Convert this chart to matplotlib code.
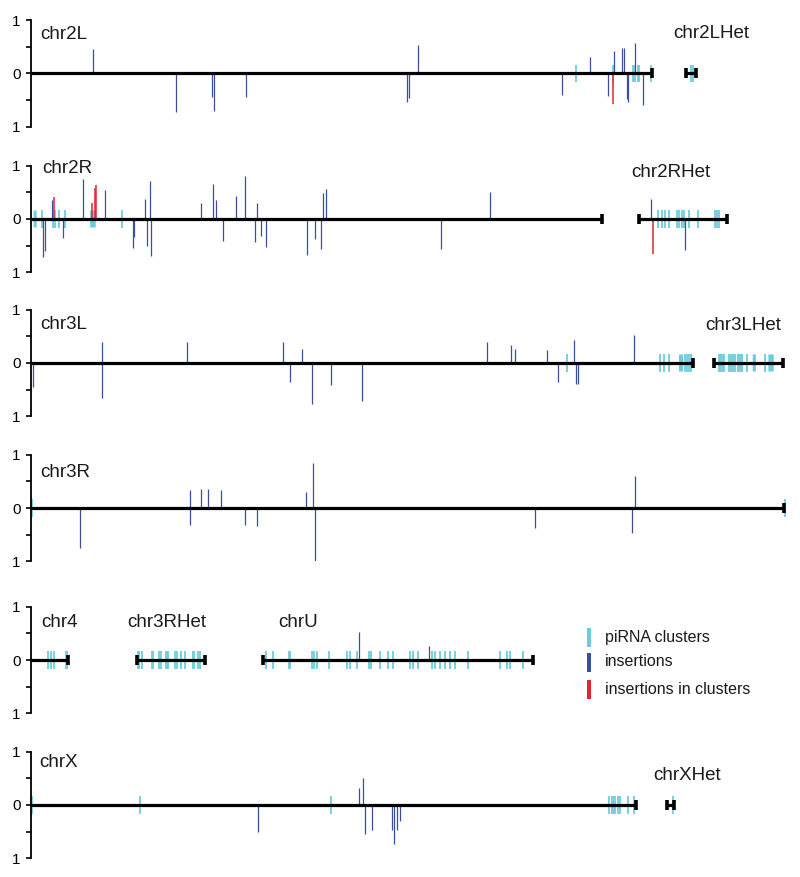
import matplotlib
matplotlib.use('Agg')
import matplotlib.pyplot as plt
from matplotlib.patches import Rectangle

plt.rcParams['font.family'] = ['Liberation Sans', 'DejaVu Sans']

W, H = 800, 877
CYAN = '#6dcedb'
BLUE = '#3c4f9e'
RED = '#e32432'
THIN = 0.04

# ---------------- data (positions in Mb, heights in relative units) ----------------
# Panel 1: chr2L + chr2LHet
p1_names = ['chr2L', 'chr2LHet']
p1_starts = [0.0, 24.25]
p1_ends = [23.01, 24.63]
p1_ins_x = [2.29, 5.38, 6.69, 6.77, 7.97, 13.91, 14.00, 14.34, 19.66, 20.71, 21.36,
            21.60, 21.88, 21.95, 22.06, 22.10, 22.38, 22.67]
p1_ins_h = [0.45, -0.73, -0.45, -0.71, -0.45, -0.54, -0.46, 0.54, -0.40, 0.31, -0.43,
            0.42, 0.48, 0.47, -0.48, -0.54, 0.57, -0.60]
p1_red_x = [21.57]
p1_red_h = [-0.58]
p1_clu_x = [20.17, 21.57, 22.31, 22.38, 22.47, 22.53, 22.96, 24.44, 24.53]
p1_clu_w = [0.07, THIN, 0.05, 0.05, 0.05, 0.05, THIN, THIN, THIN]

# Panel 2: chr2R + chr2RHet
p2_names = ['chr2R', 'chr2RHet']
p2_starts = [0.0, 22.51]
p2_ends = [21.15, 25.78]
p2_ins_x = [0.44, 0.51, 0.77, 1.17, 1.94, 2.74, 3.78, 3.83, 4.23, 4.29, 4.42, 4.46,
            6.29, 6.73, 6.85, 7.10, 7.58, 7.91, 8.30, 8.36, 8.51, 8.69, 10.23, 10.51,
            10.75, 10.80, 10.93, 15.20, 16.99, 22.96, 24.23]
p2_ins_h = [-0.71, -0.60, 0.36, -0.35, 0.75, 0.55, -0.55, -0.33, 0.37, -0.51, 0.72, -0.69,
            0.30, 0.66, 0.36, -0.42, 0.43, 0.81, -0.43, 0.30, -0.31, -0.53, -0.68, -0.37,
            -0.57, 0.48, 0.56, -0.57, 0.50, 0.37, -0.58]
p2_red_x = [0.86, 2.25, 2.37, 2.41, 23.03]
p2_red_h = [0.41, 0.30, 0.58, 0.64, -0.65]
p2_clu_x = [0.155, 0.42, 0.80, 0.89, 1.05, 1.27, 2.295, 3.36,
            23.23, 23.36, 23.48, 23.62, 23.94, 24.01, 24.10, 24.19, 24.37, 24.70,
            25.34, 25.42, 25.49]
p2_clu_w = [0.11, THIN, THIN, THIN, THIN, THIN, 0.21, THIN,
            THIN, THIN, THIN, THIN, THIN, THIN, THIN, THIN, THIN, THIN,
            THIN, THIN, THIN]

# Panel 3: chr3L + chr3LHet
p3_names = ['chr3L', 'chr3LHet']
p3_starts = [0.0, 25.31]
p3_ends = [24.53, 27.86]
p3_ins_x = [0.06, 2.64, 2.64, 5.78, 9.32, 9.59, 10.04, 10.40, 11.11, 12.25, 16.89,
            17.78, 17.91, 19.10, 19.53, 20.10, 20.19, 20.25, 22.34]
p3_ins_h = [-0.45, 0.39, -0.65, 0.40, 0.39, -0.35, 0.26, -0.76, -0.42, -0.72, 0.40,
            0.33, 0.26, 0.25, -0.36, 0.43, -0.40, -0.40, 0.53]
p3_red_x = []
p3_red_h = []
p3_clu_x = [19.85, 23.30, 23.46, 23.64, 24.075, 24.22, 24.30, 24.37, 24.44,
            25.47, 25.52, 25.57, 25.62, 25.68, 25.85, 25.90, 25.95, 26.01, 26.06,
            26.17, 26.23, 26.29, 26.35, 26.51, 26.79, 27.20, 27.41]
p3_clu_w = [THIN, THIN, THIN, THIN, 0.15, THIN, THIN, THIN, THIN,
            0.05, 0.05, 0.05, 0.05, 0.05, 0.05, 0.05, 0.05, 0.05, 0.05,
            0.05, 0.05, 0.05, 0.05, THIN, 0.12, THIN, 0.20]

# Panel 4: chr3R
p4_names = ['chr3R']
p4_starts = [0.0]
p4_ends = [27.90]
p4_ins_x = [1.83, 5.89, 5.89, 6.31, 6.57, 7.03, 7.91, 8.37, 10.20, 10.46, 10.53,
            18.68, 22.26, 22.37]
p4_ins_h = [-0.75, 0.33, -0.31, 0.35, 0.35, 0.34, -0.32, -0.34, 0.30, 0.84, -1.0,
            -0.37, -0.46, 0.60]
p4_red_x = []
p4_red_h = []
p4_clu_x = [0.02, 27.93]
p4_clu_w = [THIN, THIN]

# Panel 5: chr4, chr3RHet, chrU
p5_names = ['chr4', 'chr3RHet', 'chrU']
p5_starts = [0.0, 3.91, 8.58]
p5_ends = [1.36, 6.43, 18.60]
p5_ins_x = [12.14, 14.73]
p5_ins_h = [0.53, 0.27]
p5_red_x = []
p5_red_h = []
p5_clu_x = [0.64, 0.73, 0.85, 1.30, 1.34,
            3.96, 4.01, 4.10, 4.47, 4.53, 4.75, 4.83, 4.99, 5.03, 5.09, 5.33, 5.40,
            5.56, 5.70, 5.99, 6.05, 6.20, 6.26,
            8.69, 8.97, 9.54, 9.59, 10.40, 10.47, 10.58, 11.05, 11.69, 11.81, 12.06,
            12.53, 12.59, 12.93, 13.23, 13.42, 14.04, 14.16, 14.34, 14.84, 14.96,
            15.15, 15.33, 15.52, 15.70, 16.20, 17.37, 17.62, 17.74, 18.23]
p5_clu_w = [THIN] * len(p5_clu_x)

# Panel 6: chrX + chrXHet
p6_names = ['chrX', 'chrXHet']
p6_starts = [0.0, 23.54]
p6_ends = [22.41, 23.81]
p6_ins_x = [8.42, 12.14, 12.29, 12.38, 12.62, 13.37, 13.44, 13.54, 13.67]
p6_ins_h = [-0.50, 0.31, 0.50, -0.55, -0.46, -0.47, -0.74, -0.47, -0.30]
p6_red_x = []
p6_red_h = []
p6_clu_x = [0.02, 4.04, 11.10, 21.42, 21.51, 21.57, 21.63, 21.75, 21.81, 22.12, 22.34, 23.77]
p6_clu_w = [THIN, THIN, THIN, 0.05, 0.05, 0.05, 0.05, 0.05, 0.05, THIN, THIN, THIN]

legend_labels = ['piRNA clusters', 'insertions', 'insertions in clusters']

# ---------------- layout ----------------
panels = [
    dict(names=p1_names, s=p1_starts, e=p1_ends, ix=p1_ins_x, ih=p1_ins_h, rx=p1_red_x, rh=p1_red_h,
         cx=p1_clu_x, cw=p1_clu_w, y0=73.3,
         labels=[(0.33, 0.64, 'left'), (25.21, 0.66, 'center')]),
    dict(names=p2_names, s=p2_starts, e=p2_ends, ix=p2_ins_x, ih=p2_ins_h, rx=p2_red_x, rh=p2_red_h,
         cx=p2_clu_x, cw=p2_clu_w, y0=219.0,
         labels=[(0.43, 0.86, 'left'), (23.70, 0.78, 'center')]),
    dict(names=p3_names, s=p3_starts, e=p3_ends, ix=p3_ins_x, ih=p3_ins_h, rx=p3_red_x, rh=p3_red_h,
         cx=p3_clu_x, cw=p3_clu_w, y0=363.0,
         labels=[(0.33, 0.64, 'left'), (26.38, 0.62, 'center')]),
    dict(names=p4_names, s=p4_starts, e=p4_ends, ix=p4_ins_x, ih=p4_ins_h, rx=p4_red_x, rh=p4_red_h,
         cx=p4_clu_x, cw=p4_clu_w, y0=508.0,
         labels=[(0.33, 0.59, 'left')]),
    dict(names=p5_names, s=p5_starts, e=p5_ends, ix=p5_ins_x, ih=p5_ins_h, rx=p5_red_x, rh=p5_red_h,
         cx=p5_clu_x, cw=p5_clu_w, y0=660.0,
         labels=[(1.07, 0.62, 'center'), (5.03, 0.62, 'center'), (9.90, 0.62, 'center')]),
    dict(names=p6_names, s=p6_starts, e=p6_ends, ix=p6_ins_x, ih=p6_ins_h, rx=p6_red_x, rh=p6_red_h,
         cx=p6_clu_x, cw=p6_clu_w, y0=805.0,
         labels=[(0.31, 0.71, 'left'), (24.31, 0.46, 'center')]),
]

PX_PER_MB = 27.0
AX_LEFT_PX = 31.0
HALF_PX = 53.3
CLU_H = 0.16
CAP_H = 0.095

fig = plt.figure(figsize=(W / 100, H / 100), dpi=100)

for p in panels:
    y0 = p['y0']
    ax = fig.add_axes([AX_LEFT_PX / W, (H - (y0 + HALF_PX)) / H,
                       (W - AX_LEFT_PX) / W, 2 * HALF_PX / H])
    ax.set_xlim(0, (W - AX_LEFT_PX) / PX_PER_MB)
    ax.set_ylim(-1, 1)
    for side in ['top', 'right', 'bottom']:
        ax.spines[side].set_visible(False)
    ax.spines['left'].set_linewidth(1.3)
    ax.set_xticks([])
    ax.set_yticks([-1, -0.5, 0, 0.5, 1])
    ax.set_yticklabels(['1', '', '0', '', '1'])
    ax.tick_params(axis='y', direction='out', length=3.5, width=1.2, pad=4, labelsize=11)
    ax.patch.set_alpha(0)

    # clusters: narrow ones as lines, wide ones as bars
    thin_x = [x for x, w in zip(p['cx'], p['cw']) if w < 0.08]
    wide_x = [x for x, w in zip(p['cx'], p['cw']) if w >= 0.08]
    wide_w = [w for w in p['cw'] if w >= 0.08]
    if thin_x:
        ax.vlines(thin_x, -CLU_H, CLU_H, color=CYAN, linewidth=1.3, zorder=2)
    if wide_x:
        ax.bar(wide_x, 2 * CLU_H, width=wide_w, bottom=-CLU_H, color=CYAN, linewidth=0,
               align='center', zorder=2, snap=False)
    # insertions
    if p['ix']:
        ax.vlines(p['ix'], 0, p['ih'], color=BLUE, linewidth=0.9, zorder=3)
    if p['rx']:
        ax.vlines(p['rx'], 0, p['rh'], color=RED, linewidth=1.1, zorder=3)
    # chromosomes
    for s, e in zip(p['s'], p['e']):
        ax.hlines(0, s, e, color='black', linewidth=2.3, zorder=4)
        ax.vlines([e], -CAP_H, CAP_H, color='black', linewidth=2.6, zorder=4)
        if s > 0:
            ax.vlines([s], -CAP_H, CAP_H, color='black', linewidth=2.6, zorder=4)
    # labels
    for name, (lx, ly, ha) in zip(p['names'], p['labels']):
        ax.text(lx, ly, name, ha=ha, va='baseline', fontsize=13.5, color='#1a1a1a')

# legend
leg_colors = [CYAN, BLUE, RED]
leg_rows = [637.7, 662.0, 689.0]
for lab, col, yc in zip(legend_labels, leg_colors, leg_rows):
    fig.add_artist(Rectangle((586.7 / W, 1 - (yc + 9.5) / H), 4.3 / W, 19 / H,
                             transform=fig.transFigure, color=col, linewidth=0))
    fig.text(605 / W, 1 - yc / H, lab, ha='left', va='center', fontsize=11.5, color='#1a1a1a')

fig.savefig('out.png', dpi=100, facecolor='white')
